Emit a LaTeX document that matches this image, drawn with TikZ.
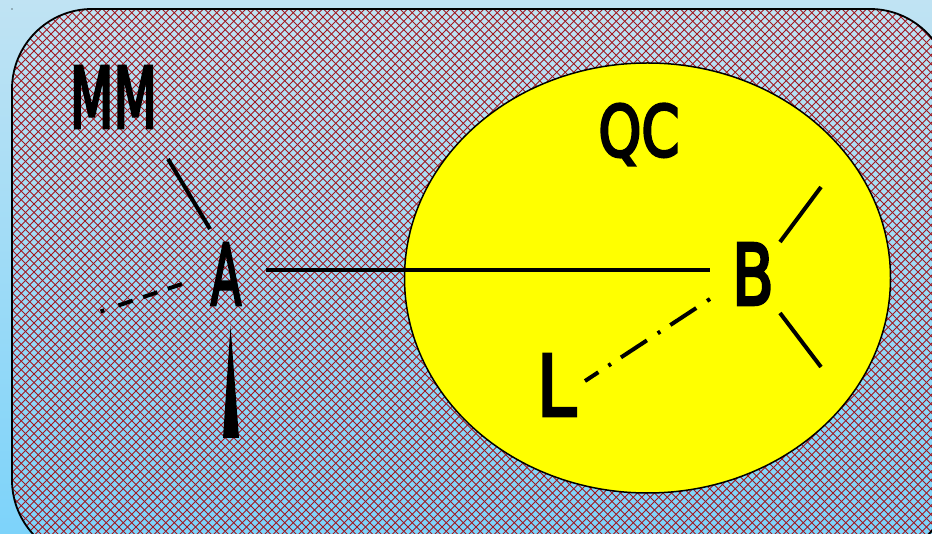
\documentclass[tikz,border=0pt]{standalone}
\usepackage{fontspec}
\setmainfont{DejaVu Sans}
\newfontfamily\heavyfont[FakeBold=4]{DejaVu Sans}
\definecolor{bgtop}{HTML}{C0E3F3}
\definecolor{bgbot}{HTML}{7DD3FA}
\definecolor{hatch}{HTML}{A01820}
\definecolor{yel}{RGB}{255,255,0}
\usetikzlibrary{shapes.geometric}
\tikzset{
  lbl/.style={inner sep=0pt,text=black,font=\fontsize{84}{84}\heavyfont},
  conn/.style={line width=4pt,black},
}
\begin{document}
\begin{tikzpicture}[x=1pt,y=-1pt]
\useasboundingbox (0,0) rectangle (932,534);
\shade[top color=bgtop,bottom color=bgbot] (0,0) rectangle (932,534);
\fill[black] (12,9) circle (0.7pt);
\begin{scope}
\clip[rounded corners=80pt] (12,9) rectangle (950,560);
\foreach \k in {-70,...,190}{
  \draw[hatch,line width=0.9pt] (\k*8.5,0) -- ++(540,540);
  \draw[hatch,line width=0.9pt] (\k*8.5,0) -- ++(-540,540);
}
\end{scope}
\draw[line width=1.8pt,rounded corners=80pt] (12,9) rectangle (950,560);
\node[ellipse,draw=black,fill=yel,line width=1.5pt,minimum width=486pt,minimum height=430pt,inner sep=0pt] (qc) at (647.5,278) {};
\node[lbl,xscale=0.6] (mm) at (113.5,97) {MM};
\node[lbl,xscale=0.53] (a) at (226,274) {A};
\node[lbl,xscale=0.72] (b) at (753,274) {B};
\node[lbl,xscale=0.84] (l) at (556.5,385) {L};
\node[lbl,xscale=0.65,yscale=0.84] (qclabel) at (639,134.5) {QC};
\coordinate (m1) at (168,159);
\coordinate (a1) at (210,229);
\draw[conn] (m1) -- (a1);
\coordinate (a2) at (266,270.5);
\coordinate (b2) at (710,270.5);
\draw[conn] (a2) -- (b2);
\coordinate (d1) at (182,284);
\coordinate (d2) at (99,312);
\draw[conn,dash pattern=on 15pt off 11pt on 15pt off 11pt on 15pt off 15pt on 4pt off 9pt] (d1) -- (d2);
\coordinate (l1) at (585,381);
\coordinate (l2) at (710,299);
\draw[conn,dash pattern=on 16pt off 12pt on 3pt off 12pt on 31pt off 13pt on 3pt off 12pt on 31pt off 13pt on 3.5pt off 5pt] (l1) -- (l2);
\coordinate (b3) at (780,242);
\coordinate (b4) at (821,187);
\coordinate (b5) at (780,313);
\coordinate (b6) at (821,367);
\draw[conn] (b3) -- (b4);
\draw[conn] (b5) -- (b6);
\coordinate (w1) at (230.5,326);
\coordinate (w2) at (223,438);
\coordinate (w3) at (239,438);
\fill[black] (w1) -- (w2) -- (w3) -- cycle;
\end{tikzpicture}
\end{document}
